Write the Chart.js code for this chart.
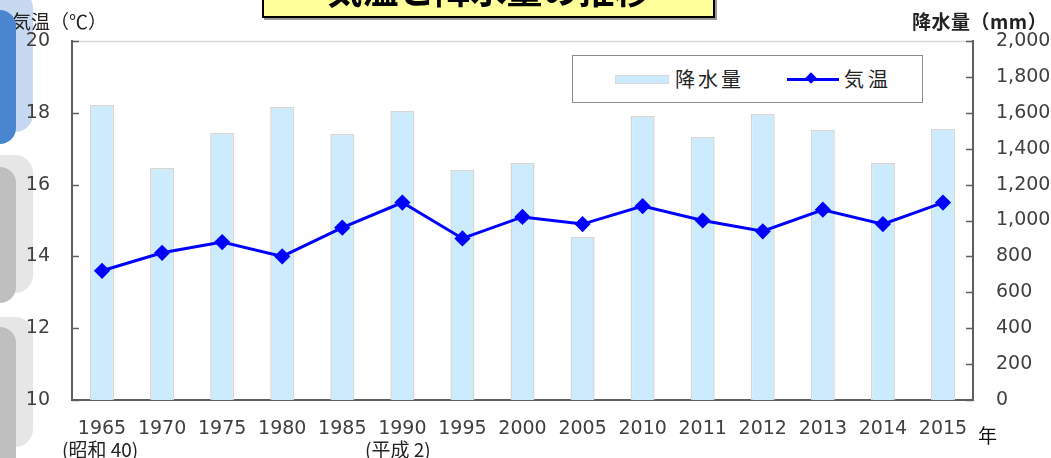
<!DOCTYPE html>
<html lang="ja">
<head>
<meta charset="utf-8">
<script src="https://cdn.jsdelivr.net/npm/chart.js@4/dist/chart.umd.min.js"></script>
<style>
  html, body { margin: 0; padding: 0; background: #fff; }
  #wrap { position: relative; width: 1051px; height: 458px; overflow: hidden; font-family: "Noto Sans CJK JP", "DejaVu Sans", sans-serif; background:#fff; }
  #c { position: absolute; left: 0; top: 0; z-index: 2; }
  .deco { position: absolute; }
  .txt { position: absolute; z-index: 4; white-space: nowrap; line-height: 1; }
  #title { position: absolute; z-index: 6; left: 262px; top: -42px; width: 449px; height: 56px; background: #FFFF99; border: 2px solid #000; box-shadow: 2px 2px 0 #999; text-align: center; font-weight: bold; font-size: 36px; line-height: 56px; color: #000; font-family: "Noto Sans CJK JP", sans-serif; }
  #legend { position: absolute; z-index: 4; left: 572px; top: 55px; width: 349px; height: 46px; border: 1.5px solid #8c8c8c; background: #fff; }
</style>
</head>
<body>
<div id="wrap">
  <div class="deco" style="z-index:1; left:-20px; top:-10px; width:53px; height:142px; background:#c6d9f1; border-radius:0 18px 18px 0;"></div>
  <div class="deco" style="z-index:5; left:-20px; top:10px; width:36px; height:134px; background:#4a86d0; border-radius:0 16px 16px 0;"></div>
  <div class="deco" style="z-index:1; left:-20px; top:155px; width:53px; height:138px; background:#e6e6e6; border-radius:0 18px 18px 0;"></div>
  <div class="deco" style="z-index:5; left:-20px; top:167px; width:36px; height:136px; background:#bfbfbf; border-radius:0 16px 16px 0;"></div>
  <div class="deco" style="z-index:1; left:-20px; top:317px; width:53px; height:130px; background:#e6e6e6; border-radius:0 18px 18px 0;"></div>
  <div class="deco" style="z-index:5; left:-20px; top:327px; width:36px; height:160px; background:#bfbfbf; border-radius:0 16px 16px 0;"></div>

  <canvas id="c" width="1051" height="458"></canvas>

  <div id="title">気温と降水量の推移</div>

  <div class="txt" style="left:12px; top:11px; font-size:19px; color:#222;">気温（℃）</div>
  <div class="txt" style="left:912px; top:11px; font-size:19px; font-weight:bold; color:#222; letter-spacing:0.5px;">降水量（mm）</div>
  <div class="txt" style="left:978px; top:425px; font-size:19px; color:#111;">年</div>
  <div class="txt" style="left:62px; top:439px; font-size:19px; color:#222;">(昭和 40)</div>
  <div class="txt" style="left:365px; top:439px; font-size:19px; color:#222;">(平成 2)</div>

  <div id="legend">
    <div style="position:absolute; left:42px; top:19px; width:52px; height:7px; background:#CCEBFC; border:1px solid #d9d9d9;"></div>
    <div class="txt" style="left:102px; top:13px; font-size:20px; color:#222; letter-spacing:3px;">降水量</div>
    <div style="position:absolute; left:214px; top:22px; width:52px; height:3px; background:#0000ff;"></div>
    <div style="position:absolute; left:234px; top:18px; width:8px; height:8px; background:#0000ff; transform:rotate(45deg);"></div>
    <div class="txt" style="left:271px; top:13px; font-size:20px; color:#222; letter-spacing:4px;">気温</div>
  </div>
</div>

<script>
const categories = ['1965','1970','1975','1980','1985','1990','1995','2000','2005','2010','2011','2012','2013','2014','2015'];
const precipitation = [1643, 1292, 1487, 1632, 1482, 1610, 1281, 1320, 908, 1582, 1465, 1593, 1504, 1320, 1510];
const temperature = [13.6, 14.1, 14.4, 14.0, 14.8, 15.5, 14.5, 15.1, 14.9, 15.4, 15.0, 14.7, 15.3, 14.9, 15.5];
const tempTicks = [10, 12, 14, 16, 18, 20];
const precipTicks = [0, 200, 400, 600, 800, 1000, 1200, 1400, 1600, 1800, 2000];

const axisColor = '#5f5f5f';
const labelColor = '#404040';
const tickFont = { family: '"DejaVu Sans", sans-serif', size: 19 };

const innerTicks = {
  id: 'innerTicks',
  afterDatasetsDraw(chart) {
    const ctx = chart.ctx;
    const a = chart.chartArea;
    ctx.save();
    ctx.strokeStyle = '#d9d9d9';
    ctx.lineWidth = 1.5;
    ctx.beginPath();
    ctx.moveTo(a.left + 1, a.top + 0.5);
    ctx.lineTo(a.right - 1, a.top + 0.5);
    ctx.stroke();
    ctx.strokeStyle = axisColor;
    ctx.lineWidth = 1.5;
    const yl = chart.scales.y;
    yl.ticks.forEach(t => {
      const p = Math.round(yl.getPixelForValue(t.value)) + 0.5;
      ctx.beginPath(); ctx.moveTo(a.left, p); ctx.lineTo(a.left + 7, p); ctx.stroke();
    });
    const yr = chart.scales.y1;
    yr.ticks.forEach(t => {
      const p = Math.round(yr.getPixelForValue(t.value)) + 0.5;
      ctx.beginPath(); ctx.moveTo(a.right - 7, p); ctx.lineTo(a.right, p); ctx.stroke();
    });
    ctx.restore();
  }
};

new Chart(document.getElementById('c'), {
  data: {
    labels: categories,
    datasets: [
      {
        type: 'line',
        label: '気温',
        data: temperature,
        yAxisID: 'y',
        borderColor: '#0000ff',
        backgroundColor: '#0000ff',
        borderWidth: 3,
        pointStyle: 'rectRot',
        pointRadius: 6,
        pointHoverRadius: 6,
        tension: 0,
        order: 0
      },
      {
        type: 'bar',
        label: '降水量',
        data: precipitation,
        yAxisID: 'y1',
        backgroundColor: '#CCEBFC',
        borderColor: '#d6d6d6',
        borderWidth: 1.5,
        borderSkipped: 'bottom',
        categoryPercentage: 1,
        barPercentage: 0.4,
        order: 1
      }
    ]
  },
  options: {
    responsive: false,
    devicePixelRatio: 1,
    animation: false,
    layout: { padding: { top: 41, left: 0, right: 0, bottom: 0 } },
    plugins: { legend: { display: false }, tooltip: { enabled: false } },
    scales: {
      x: {
        position: 'bottom',
        grid: { display: false, drawTicks: false },
        border: { display: true, color: axisColor, width: 2 },
        ticks: { color: labelColor, font: tickFont, padding: 18, maxRotation: 0, autoSkip: false },
        afterFit(s) { s.height = 58; }
      },
      y: {
        position: 'left',
        min: 10, max: 20,
        afterBuildTicks(s) { s.ticks = tempTicks.map(v => ({ value: v })); },
        grid: { display: false, drawTicks: false },
        border: { display: true, color: axisColor, width: 2 },
        ticks: { color: labelColor, font: tickFont, padding: 22 },
        afterFit(s) { s.width = 72; }
      },
      y1: {
        position: 'right',
        min: 0, max: 2000,
        afterBuildTicks(s) { s.ticks = precipTicks.map(v => ({ value: v })); },
        grid: { display: false, drawTicks: false },
        border: { display: true, color: axisColor, width: 2 },
        ticks: { color: labelColor, font: tickFont, padding: 23, callback: v => v.toLocaleString('en-US') },
        afterFit(s) { s.width = 78; }
      }
    }
  },
  plugins: [innerTicks]
});
</script>
</body>
</html>
